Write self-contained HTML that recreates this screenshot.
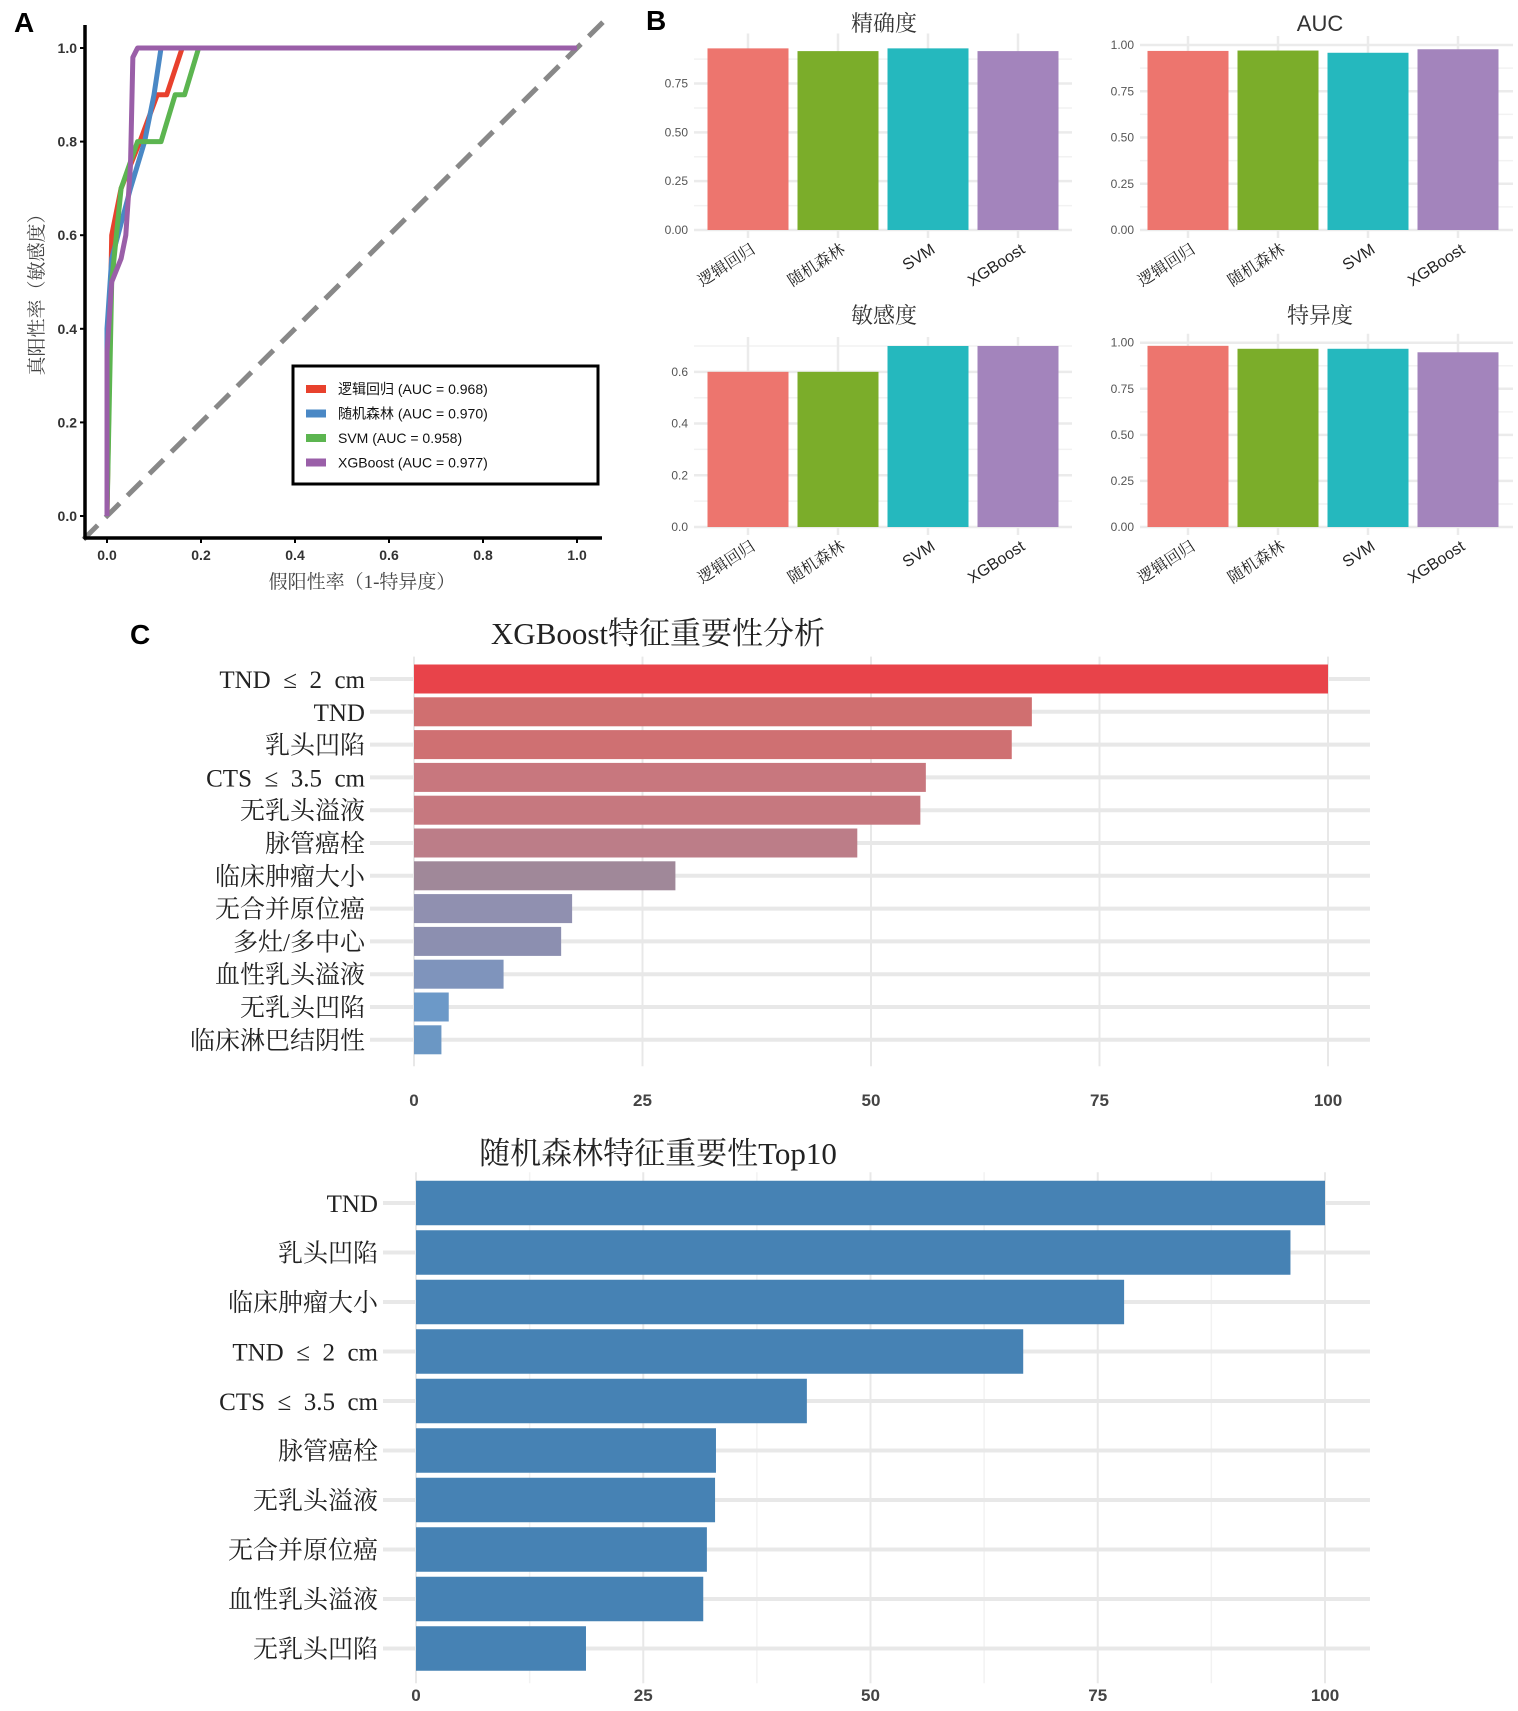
<!DOCTYPE html>
<html><head><meta charset="utf-8"><style>
body{margin:0;background:#fff;}
svg{display:block;font-family:"Liberation Sans","Noto Sans CJK SC",sans-serif;}
.ser{font-family:"Liberation Serif","Noto Serif CJK SC",serif;}
</style></head><body>
<svg id="root" width="1518" height="1711" viewBox="0 0 1518 1711">
<g id="pA"></g>
<g id="pB"></g>
<g id="pC1"></g>
<g id="pC2"></g>
</svg>
<script>
// ---- ROC data ----
const rocNames = ["逻辑回归 (AUC = 0.968)","随机森林 (AUC = 0.970)","SVM (AUC = 0.958)","XGBoost (AUC = 0.977)"];
const lrFpr = [0,0.01,0.03,0.07,0.107,0.127,0.16,1];
const lrTpr = [0,0.6,0.7,0.8,0.9,0.9,1,1];
const rfFpr = [0,0,0.01,0.05,0.08,0.1,0.115,1];
const rfTpr = [0,0.4,0.55,0.7,0.8,0.9,1,1];
const svmFpr = [0,0.01,0.03,0.065,0.115,0.145,0.165,0.195,1];
const svmTpr = [0,0.5,0.7,0.8,0.8,0.9,0.9,1,1];
const xgbFpr = [0,0,0.01,0.03,0.04,0.05,0.055,0.065,1];
const xgbTpr = [0,0.35,0.5,0.55,0.6,0.75,0.98,1,1];
const rocTicks = [0,0.2,0.4,0.6,0.8,1.0];
// ---- metrics data ----
const models = ["逻辑回归","随机森林","SVM","XGBoost"];
const precisionVals = [0.93,0.916,0.93,0.916];
const aucVals = [0.968,0.970,0.958,0.977];
const sensVals = [0.6,0.6,0.7,0.7];
const specVals = [0.983,0.967,0.967,0.948];
// ---- importance data ----
const xgbFeatures = ["TND\u2002≤\u20022\u2002cm","TND","乳头凹陷","CTS\u2002≤\u20023.5\u2002cm","无乳头溢液","脉管癌栓","临床肿瘤大小","无合并原位癌","多灶/多中心","血性乳头溢液","无乳头凹陷","临床淋巴结阴性"];
const xgbImportance = [100,67.6,65.4,56.0,55.4,48.5,28.6,17.3,16.1,9.8,3.8,3.0];
const rfFeatures = ["TND","乳头凹陷","临床肿瘤大小","TND\u2002≤\u20022\u2002cm","CTS\u2002≤\u20023.5\u2002cm","脉管癌栓","无乳头溢液","无合并原位癌","血性乳头溢液","无乳头凹陷"];
const rfImportance = [100,96.2,77.9,66.8,43.0,33.0,32.9,32.0,31.6,18.7];
const impTicks = [0,25,50,75,100];

const NS="http://www.w3.org/2000/svg";
function mk(parent,tag,attrs,text){const e=document.createElementNS(NS,tag);for(const k in attrs)e.setAttribute(k,attrs[k]);if(text!==undefined)e.textContent=text;parent.appendChild(e);return e;}

// ===== Panel A =====
(function(){
const g=document.getElementById('pA');
const xs=v=>107+v*470, ys=v=>516-v*468;
let t=mk(g,'text',{x:14,y:32,'font-size':28,'font-weight':'bold',fill:'#000'},'A');

let d=mk(g,'line',{x1:xs(-0.05),y1:ys(-0.05),x2:xs(1.06),y2:ys(1.06),stroke:'#888','stroke-width':5,'stroke-dasharray':'20 11'});

const series=[[lrFpr,lrTpr,'#e8412d','roc-logistic'],[rfFpr,rfTpr,'#4a88c5','roc-random-forest'],[svmFpr,svmTpr,'#5cb550','roc-svm'],[xgbFpr,xgbTpr,'#9a5fa8','roc-xgboost']];
series.forEach(s=>{
 const pts=s[0].map((f,i)=>xs(f)+','+ys(s[1][i])).join(' ');
 const p=mk(g,'polyline',{points:pts,fill:'none',stroke:s[2],'stroke-width':5,'stroke-linejoin':'round'});
 
});
let ax=mk(g,'line',{x1:85,y1:25,x2:85,y2:539,stroke:'#000','stroke-width':3.5});

ax=mk(g,'line',{x1:84,y1:538,x2:602,y2:538,stroke:'#000','stroke-width':3.5});

rocTicks.forEach(v=>{
 mk(g,'line',{x1:80,y1:ys(v),x2:85,y2:ys(v),stroke:'#000','stroke-width':2});
 let a=mk(g,'text',{x:77,y:ys(v)+5,'text-anchor':'end','font-size':14,'font-weight':'bold',fill:'#333'},v.toFixed(1));
 
 mk(g,'line',{x1:xs(v),y1:538,x2:xs(v),y2:543,stroke:'#000','stroke-width':2});
 let b=mk(g,'text',{x:xs(v),y:560,'text-anchor':'middle','font-size':14,'font-weight':'bold',fill:'#333'},v.toFixed(1));
 
});
t=mk(g,'text',{x:362,y:588,'text-anchor':'middle','font-size':19,fill:'#444',class:'ser'},'假阳性率（1-特异度）');

t=mk(g,'text',{x:0,y:0,'text-anchor':'middle','font-size':19,fill:'#444',class:'ser',transform:'translate(43,290) rotate(-90)'},'真阳性率（敏感度）');

const lg=mk(g,'g',{});
mk(lg,'rect',{x:293,y:366,width:305,height:118,fill:'#fff',stroke:'#000','stroke-width':3});
rocNames.forEach((n,i)=>{
 const y=389+i*24.5;
 mk(lg,'rect',{x:306,y:y-4,width:20,height:8,fill:series[i][2]});
 const e=mk(lg,'text',{x:338,y:y+5,'font-size':14,fill:'#111'},n);
 
});
})();

// ===== Panel B =====
(function(){
const g=document.getElementById('pB');
let t=mk(g,'text',{x:646,y:30,'font-size':28,'font-weight':'bold',fill:'#000'},'B');

const colors=['#ed756e','#7bad2a','#25b8be','#a384bc'];
const panels=[
 {title:'精确度',vals:precisionVals,x0:694,x1:1072,cx0:748,y0:230,ppu:195.3,top:0.96,ticks:[0,0.25,0.5,0.75],dec:2,lab:688,name:'precision-chart',ty:31,ly:252,tx:884},
 {title:'AUC',vals:aucVals,x0:1140,x1:1513,cx0:1188,y0:230,ppu:185,top:1.0,ticks:[0,0.25,0.5,0.75,1],dec:2,lab:1134,name:'auc-chart',tf:1,ty:31,ly:252,tx:1320},
 {title:'敏感度',vals:sensVals,x0:694,x1:1072,cx0:748,y0:527,ppu:258.6,top:0.7,ticks:[0,0.2,0.4,0.6],dec:1,lab:688,name:'sensitivity-chart',ty:323,ly:549,tx:884},
 {title:'特异度',vals:specVals,x0:1140,x1:1513,cx0:1188,y0:527,ppu:184.3,top:1.0,ticks:[0,0.25,0.5,0.75,1],dec:2,lab:1134,name:'specificity-chart',ty:323,ly:549,tx:1320}];
panels.forEach(p=>{
 const pg=mk(g,'g',{});
 const ys=v=>p.y0-v*p.ppu;
 const topY=ys(p.top)-6;
 const step=p.ticks[1]-p.ticks[0];
 for(let v=step/2;v<=p.top+1e-9;v+=step) mk(pg,'line',{x1:p.x0,y1:ys(v),x2:p.x1,y2:ys(v),stroke:'#f2f2f2','stroke-width':1.5});
 p.ticks.forEach(v=>{
  mk(pg,'line',{x1:p.x0,y1:ys(v),x2:p.x1,y2:ys(v),stroke:'#ebebeb','stroke-width':2.5});
  const e=mk(pg,'text',{x:p.lab,y:ys(v)+4,'text-anchor':'end','font-size':12,fill:'#555'},v.toFixed(p.dec));
  
 });
 models.forEach((m,i)=>{
  const cx=p.cx0+i*90;
  mk(pg,'line',{x1:cx,y1:topY-3,x2:cx,y2:p.y0+8,stroke:'#ebebeb','stroke-width':2.5});
 });
 p.vals.forEach((v,i)=>{
  const cx=p.cx0+i*90;
  const r=mk(pg,'rect',{x:cx-40.5,y:ys(v),width:81,height:p.y0-ys(v),fill:colors[i]});
  
  const lx=cx+8, ly=p.ly;
  const e=mk(pg,'text',{x:0,y:0,'text-anchor':'end','font-size':16,fill:'#222',class:i<2?'ser':'',transform:`translate(${lx},${ly}) rotate(-33)`},models[i]);
  
 });
 const tt=mk(pg,'text',{x:p.tx,y:p.ty,'text-anchor':'middle','font-size':22,fill:'#333',class:p.tf?'':'ser'},p.title);
 
});
})();

// ===== Panel C =====
function importance(gid,features,vals,o){
 const g=document.getElementById(gid);
 const xs=v=>o.x0+v/100*(o.x100-o.x0);
 const ys=i=>o.c0+i*o.pitch;
 const yTop=ys(0)-o.pitch/2-6, yBot=ys(features.length-1)+o.pitch/2+10;
 if(o.minor) [12.5,37.5,62.5,87.5].forEach(v=>mk(g,'line',{x1:xs(v),y1:yTop,x2:xs(v),y2:yBot,stroke:'#f2f2f2','stroke-width':1.5}));
 impTicks.forEach(v=>mk(g,'line',{x1:xs(v),y1:yTop,x2:xs(v),y2:yBot,stroke:'#e8e8e8','stroke-width':2}));
 features.forEach((f,i)=>{
  mk(g,'line',{x1:o.gx,y1:ys(i),x2:1370,y2:ys(i),stroke:'#e8e8e8','stroke-width':4});
  const e=mk(g,'text',{x:o.lx,y:ys(i)+9,'text-anchor':'end','font-size':25,fill:'#222',class:'ser'},f);
  
 });
 vals.forEach((v,i)=>{
  const r=mk(g,'rect',{x:xs(0),y:ys(i)-o.bh/2,width:xs(v)-xs(0),height:o.bh,fill:o.colors?o.colors[i]:o.color});
  
 });
 impTicks.forEach(v=>{
  const e=mk(g,'text',{x:xs(v),y:o.ty,'text-anchor':'middle','font-size':17,'font-weight':'bold',fill:'#444'},String(v));
  
 });
 const t=mk(g,'text',{x:658,y:o.tiy,'text-anchor':'middle','font-size':31,fill:'#222',class:'ser'},o.title);
 
}
(function(){
 const g=document.getElementById('pC1');
 const t=mk(g,'text',{x:130,y:644,'font-size':28,'font-weight':'bold',fill:'#000'},'C');
 
})();
importance('pC1',xgbFeatures,xgbImportance,{x0:414,x100:1328,c0:679,pitch:32.8,bh:29,gx:370,lx:365,ty:1106,tiy:644,title:'XGBoost特征重要性分析',
 colors:['#e8434a','#d06f70','#cf7072','#c8777e','#c6787f','#bc7d88','#a08899','#9090b0','#8c8fb0','#7f94bc','#6c99c8','#6b97c4']});
importance('pC2',rfFeatures,rfImportance,{x0:416,x100:1325,c0:1203,pitch:49.5,bh:44.5,gx:383,lx:378,ty:1701,tiy:1164,title:'随机森林特征重要性Top10',color:'#4682b4',minor:true});
</script>
</body></html>
